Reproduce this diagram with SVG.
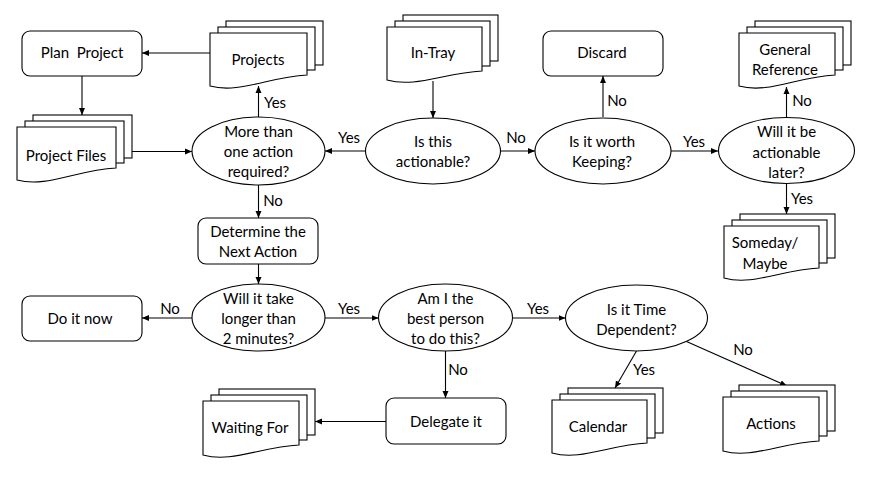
<svg xmlns="http://www.w3.org/2000/svg" width="872" height="479" viewBox="0 0 872 479">
<style>
.n{fill:#fff;stroke:#000;stroke-width:1.1}
.c{fill:none;stroke:#000;stroke-width:1.1;marker-end:url(#ah)}
text{font-family:Lato,"Liberation Sans",sans-serif;font-size:15px;fill:#000;text-anchor:middle}
</style>
<defs>
<marker id="ah" markerUnits="userSpaceOnUse" markerWidth="8" markerHeight="8" viewBox="0 0 8 8" refX="7" refY="4" orient="auto">
<path d="M0,1 L7,4 L0,7 Z" fill="#000"/>
</marker>
</defs>
<rect width="872" height="479" fill="#fff"/>

<g id="connectors">
<path class="c" d="M210,53 H142"/>
<path class="c" d="M82,76 V115"/>
<path class="c" d="M132,151.5 H192"/>
<path class="c" d="M258.5,117 V86"/>
<path class="c" d="M365,151 H325"/>
<path class="c" d="M433,81 V118"/>
<path class="c" d="M500,151 H535"/>
<path class="c" d="M603,117 V76"/>
<path class="c" d="M671,151 H718"/>
<path class="c" d="M786.5,117 V87"/>
<path class="c" d="M786.5,183 V214"/>
<path class="c" d="M258.5,185 V218"/>
<path class="c" d="M258.5,264 V284"/>
<path class="c" d="M192,318 H142"/>
<path class="c" d="M325,318 H378.5"/>
<path class="c" d="M445.5,351 V398"/>
<path class="c" d="M386,421.5 H315"/>
<path class="c" d="M512.5,318 H565.5"/>
<path class="c" d="M636.5,351 L615,388"/>
<path class="c" d="M686.5,341.5 L787,386"/>
<text x="275" y="108">Yes</text>
<text x="349" y="143">Yes</text>
<text x="516" y="143">No</text>
<text x="617" y="106">No</text>
<text x="694" y="147">Yes</text>
<text x="802" y="106">No</text>
<text x="802" y="204">Yes</text>
<text x="273" y="206">No</text>
<text x="170" y="314">No</text>
<text x="349" y="314">Yes</text>
<text x="458" y="375">No</text>
<text x="538" y="314">Yes</text>
<text x="644" y="375">Yes</text>
<text x="743" y="355">No</text>
</g>

<g id="plan-project">
<rect class="n" x="22" y="31" width="120" height="45" rx="8"/>
<text x="82" y="58" xml:space="preserve">Plan  Project</text>
</g>

<g id="projects">
<rect class="n" x="226" y="21" width="97" height="44"/>
<rect class="n" x="218" y="27" width="97" height="43"/>
<path class="n" d="M210,33 H307 V75 C268.2,77 239.1,94 210,86 Z"/>
<text x="258" y="65">Projects</text>
</g>

<g id="in-tray">
<rect class="n" x="403" y="15" width="95" height="46"/>
<rect class="n" x="395" y="21" width="95" height="45"/>
<path class="n" d="M387,27 H482 V71 C444,73 415.5,88 387,80 Z"/>
<text x="433" y="58">In-Tray</text>
</g>

<g id="discard">
<rect class="n" x="543" y="31" width="120" height="45" rx="8"/>
<text x="602" y="58">Discard</text>
</g>

<g id="general-reference">
<rect class="n" x="755" y="21" width="96" height="44"/>
<rect class="n" x="747" y="27" width="96" height="43"/>
<path class="n" d="M739,33 H835 V75 C796.6,77 767.8,94 739,86 Z"/>
<text x="785" y="55">General</text>
<text x="785" y="75">Reference</text>
</g>

<g id="project-files">
<rect class="n" x="33" y="115" width="99" height="43"/>
<rect class="n" x="25" y="121" width="99" height="42"/>
<path class="n" d="M17,127 H116 V168 C76.4,170 46.7,188 17,180 Z"/>
<text x="66" y="161">Project Files</text>
</g>

<g id="more-than-one">
<ellipse class="n" cx="258.5" cy="151" rx="66.5" ry="34"/>
<text x="258.5" y="137">More than</text>
<text x="258.5" y="157">one action</text>
<text x="258.5" y="177">required?</text>
</g>

<g id="is-actionable">
<ellipse class="n" cx="433" cy="151" rx="67.5" ry="33"/>
<text x="433" y="147">Is this</text>
<text x="433" y="167">actionable?</text>
</g>

<g id="worth-keeping">
<ellipse class="n" cx="603" cy="151" rx="68" ry="33"/>
<text x="602" y="147">Is it worth</text>
<text x="602" y="167">Keeping?</text>
</g>

<g id="actionable-later">
<ellipse class="n" cx="786.5" cy="150.5" rx="68" ry="33"/>
<text x="786.5" y="137">Will it be</text>
<text x="786.5" y="157.5">actionable</text>
<text x="786.5" y="178">later?</text>
</g>

<g id="someday-maybe">
<rect class="n" x="740" y="214" width="95" height="44"/>
<rect class="n" x="732" y="220" width="95" height="43"/>
<path class="n" d="M724,226 H819 V268 C781,270 752.5,286 724,278 Z"/>
<text x="765" y="248">Someday/</text>
<text x="765" y="269">Maybe</text>
</g>

<g id="determine-next-action">
<rect class="n" x="198" y="218" width="120" height="46" rx="8"/>
<text x="258" y="237">Determine the</text>
<text x="258" y="257">Next Action</text>
</g>

<g id="longer-than-2">
<ellipse class="n" cx="258.5" cy="317.5" rx="66.5" ry="33.5"/>
<text x="258.5" y="304">Will it take</text>
<text x="258.5" y="324">longer than</text>
<text x="258.5" y="343.5">2 minutes?</text>
</g>

<g id="do-it-now">
<rect class="n" x="22" y="296" width="120" height="45" rx="8"/>
<text x="80" y="323.5">Do it now</text>
</g>

<g id="best-person">
<ellipse class="n" cx="445.5" cy="317.5" rx="67" ry="33.5"/>
<text x="445.5" y="304">Am I the</text>
<text x="445.5" y="324">best person</text>
<text x="445.5" y="343.5">to do this?</text>
</g>

<g id="delegate-it">
<rect class="n" x="386" y="398" width="120" height="46" rx="8"/>
<text x="446" y="427">Delegate it</text>
</g>

<g id="waiting-for">
<rect class="n" x="219" y="389" width="96" height="46"/>
<rect class="n" x="211" y="395" width="96" height="45"/>
<path class="n" d="M203,401 H299 V445 C260.6,447 231.8,463 203,455 Z"/>
<text x="250" y="433">Waiting For</text>
</g>

<g id="time-dependent">
<ellipse class="n" cx="636.5" cy="318" rx="71" ry="33"/>
<text x="636.5" y="314.5">Is it Time</text>
<text x="636.5" y="334.5">Dependent?</text>
</g>

<g id="calendar">
<rect class="n" x="568" y="388" width="95" height="45"/>
<rect class="n" x="560" y="394" width="95" height="44"/>
<path class="n" d="M552,400 H647 V443 C609,445 580.5,461 552,453 Z"/>
<text x="598" y="432">Calendar</text>
</g>

<g id="actions">
<rect class="n" x="739" y="385" width="96" height="46"/>
<rect class="n" x="731" y="391" width="96" height="45"/>
<path class="n" d="M723,397 H819 V441 C780.6,443 751.8,459 723,451 Z"/>
<text x="771" y="429">Actions</text>
</g>
</svg>
